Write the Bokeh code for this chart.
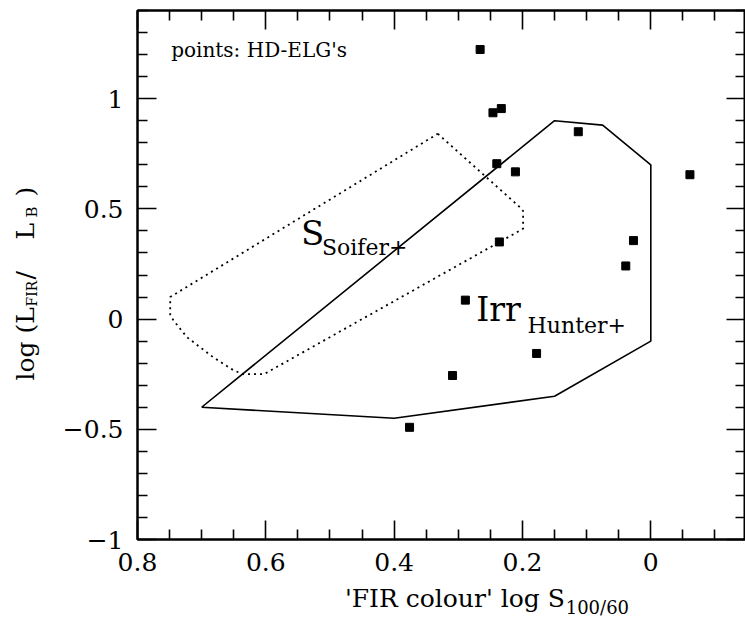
import numpy as np
from bokeh.plotting import figure
from bokeh.layouts import row, column
from bokeh.models import Range1d, LinearAxis, FixedTicker, Label
from bokeh.embed import file_html
from bokeh.resources import INLINE

# ---------------- data ----------------
# HD-ELG points
hd_elg_x = [0.266, 0.233, 0.246, 0.113, 0.240, 0.211, -0.061, 0.027, 0.236, 0.039, 0.289, 0.178, 0.309, 0.376]
hd_elg_y = [1.223, 0.955, 0.936, 0.850, 0.705, 0.668, 0.655, 0.356, 0.350, 0.241, 0.086, -0.156, -0.256, -0.491]

# Irr (Hunter+) region, solid outline
irr_x = [0.70, 0.40, 0.15, 0.00, 0.00, 0.075, 0.15, 0.70]
irr_y = [-0.40, -0.45, -0.35, -0.10, 0.70, 0.88, 0.90, -0.40]

# S (Soifer+) region, dotted outline
soifer_x = [0.332, 0.205, 0.199, 0.199, 0.205, 0.603, 0.635, 0.650, 0.682, 0.723, 0.744, 0.749, 0.749, 0.332]
soifer_y = [0.841, 0.510, 0.490, 0.410, 0.400, -0.250, -0.250, -0.233, -0.173, -0.082, -0.006, 0.020, 0.100, 0.841]

# ticks
x_major = [0.8, 0.6, 0.4, 0.2, 0.0]
x_minor = [0.85, 0.75, 0.7, 0.65, 0.55, 0.5, 0.45, 0.35, 0.3, 0.25, 0.15, 0.1, 0.05, -0.05, -0.1, -0.15]
x_labels = {0.8: "0.8", 0.6: "0.6", 0.4: "0.4", 0.2: "0.2", 0.0: "0"}
y_major = [-1.0, -0.5, 0.0, 0.5, 1.0]
y_minor = [-0.9, -0.8, -0.7, -0.6, -0.4, -0.3, -0.2, -0.1, 0.1, 0.2, 0.3, 0.4,
           0.6, 0.7, 0.8, 0.9, 1.1, 1.2, 1.3, 1.4]
y_labels = {-1.0: "\u22121", -0.5: "\u22120.5", 0.0: "0", 0.5: "0.5", 1.0: "1"}

FONT = "DejaVu Serif"
TOTAL_W, TOTAL_H = 745, 618
LEFT_W = 45            # strip holding the y title
BOTTOM_H = 36          # strip holding the x title
MAIN_W, MAIN_H = TOTAL_W - LEFT_W, TOTAL_H - BOTTOM_H
Y_PX = 220.4           # pixels per y unit in the main frame
K = 0.31               # label anchor correction, as a fraction of the font size

p = figure(width=MAIN_W, height=MAIN_H, output_backend="svg", toolbar_location=None,
           title=None,
           x_range=Range1d(0.8, -0.1476), y_range=Range1d(-1.0, 1.4),
           min_border_left=137 - LEFT_W, min_border_right=0, min_border_top=10,
           min_border_bottom=MAIN_H - 539,
           x_axis_type=None, y_axis_type=None)
p.xgrid.visible = False
p.ygrid.visible = False
p.outline_line_color = "black"
p.outline_line_width = 2
p.background_fill_color = "white"
p.border_fill_color = "white"


def style_axis(ax, labels, show):
    ax.major_tick_in = 19
    ax.major_tick_out = 0
    ax.minor_tick_in = 10
    ax.minor_tick_out = 0
    ax.major_tick_line_width = 1.6
    ax.minor_tick_line_width = 1.6
    ax.major_tick_line_color = "black"
    ax.minor_tick_line_color = "black"
    ax.axis_line_width = 2
    ax.axis_line_color = "black"
    ax.major_label_text_font = FONT
    ax.major_label_text_color = "black"
    if show:
        ax.major_label_overrides = labels
        ax.major_label_text_font_size = "25px"
    else:
        ax.major_label_overrides = {k: "" for k in labels}
        ax.major_label_text_font_size = "10px"
        ax.major_label_standoff = 0


xb = LinearAxis(ticker=FixedTicker(ticks=x_major, minor_ticks=x_minor))
style_axis(xb, x_labels, True)
xb.major_label_standoff = 13
p.add_layout(xb, "below")

xtop = LinearAxis(ticker=FixedTicker(ticks=x_major, minor_ticks=x_minor))
style_axis(xtop, x_labels, False)
p.add_layout(xtop, "above")

yl = LinearAxis(ticker=FixedTicker(ticks=y_major, minor_ticks=y_minor))
style_axis(yl, y_labels, True)
yl.major_label_standoff = 14
p.add_layout(yl, "left")

yr = LinearAxis(ticker=FixedTicker(ticks=y_major, minor_ticks=y_minor))
style_axis(yr, y_labels, False)
p.add_layout(yr, "right")

# regions
p.line(irr_x, irr_y, line_color="black", line_width=1.6)
p.line(soifer_x, soifer_y, line_color="black", line_width=1.8, line_dash="2 4")

# points
p.scatter(hd_elg_x, hd_elg_y, marker="square", size=8, color="black")


def add_label(fig, x, y, text, size_px, angle=0.0, align="left"):
    fig.add_layout(Label(x=x, y=y, text=text, text_font=FONT, text_font_size=f"{size_px}px",
                         text_color="black", text_align=align, text_baseline="alphabetic",
                         angle=angle))


def plot_label(x, y, text, size_px):
    # y is the wanted baseline; nudge by the renderer's baseline offset
    add_label(p, x, y + K * size_px / Y_PX, text, size_px)


# in-plot texts (data coordinates)
plot_label(0.7475, 1.194, "points: HD-ELG's", 20)
plot_label(0.545, 0.343, "S", 34)
plot_label(0.5125, 0.292, "Soifer+", 22)
plot_label(0.272, -0.002, "Irr", 33)
plot_label(0.192, -0.059, "Hunter+", 22)


def strip(width, height, x0, x1):
    f = figure(width=width, height=height, output_backend="svg", toolbar_location=None,
               title=None,
               x_range=Range1d(x0, x1), y_range=Range1d(0, height),
               min_border=0, x_axis_location=None, y_axis_location=None)
    f.xgrid.visible = False
    f.ygrid.visible = False
    f.outline_line_color = None
    f.background_fill_color = "white"
    f.border_fill_color = "white"
    return f


# y title strip (rotated text): page x of baseline, page y of text start
left = strip(LEFT_W, TOTAL_H, 0, LEFT_W)
a = np.pi / 2


def ytitle(px, py, text, size_px):
    add_label(left, px - K * size_px, TOTAL_H - py, text, size_px, a)


ytitle(33, 380, "log (L", 25)
ytitle(36, 306, "FIR", 14)
ytitle(33, 279, "/", 25)
ytitle(33, 239, "L", 25)
ytitle(36, 217, "B", 15)
ytitle(33, 196, ")", 25)

# x title strip: page x of anchor, page y of baseline
bottom = strip(MAIN_W, BOTTOM_H, LEFT_W, TOTAL_W)


def xtitle(px, py, text, size_px, align):
    add_label(bottom, px, TOTAL_H - py + K * size_px, text, size_px, 0.0, align)


xtitle(537, 606, "'FIR colour' log S", 25, "right")
xtitle(538, 613, "100/60", 18, "left")

layout = row(left, column(p, bottom, spacing=0), spacing=0)

open("out.html", "w").write(file_html(layout, INLINE))
